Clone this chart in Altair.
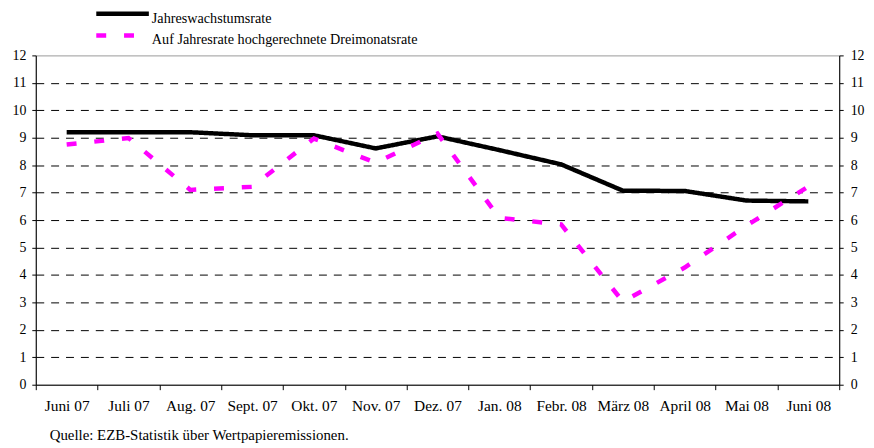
import altair as alt
import pandas as pd

months = ["Juni 07", "Juli 07", "Aug. 07", "Sept. 07", "Okt. 07", "Nov. 07", "Dez. 07",
          "Jan. 08", "Febr. 08", "März 08", "April 08", "Mai 08", "Juni 08"]
jahres = [9.20, 9.20, 9.20, 9.09, 9.09, 8.61, 9.05, 8.55, 8.03, 7.07, 7.06, 6.71, 6.68]
dreimonat = [8.75, 8.99, 7.10, 7.21, 8.97, 8.09, 9.15, 6.08, 5.84, 3.03, 4.27, 5.80, 7.22]
series = ["Jahreswachstumsrate", "Auf Jahresrate hochgerechnete Dreimonatsrate"]
y_ticks = list(range(0, 13))
x_ticks = list(range(0, 14))
source = "Quelle: EZB-Statistik über Wertpapieremissionen."

rows = []
for i, m in enumerate(months):
    rows.append({"pos": i + 0.5, "Monat": m, "Serie": series[0], "Wert": jahres[i]})
for i, m in enumerate(months):
    rows.append({"pos": i + 0.5, "Monat": m, "Serie": series[1], "Wert": dreimonat[i]})
df = pd.DataFrame(rows)
legend_df = pd.DataFrame({"Serie": series, "row": list(range(len(series)))})

FONT = "Liberation Serif"
W, H = 810, 332

month_arr = "[" + ",".join("'" + m + "'" for m in months) + "]"
label_expr = f"datum.value < {len(months)} ? {month_arr}[datum.value] : ''"

x_enc = alt.X(
    "pos:Q",
    scale=alt.Scale(domain=[0, len(months)], nice=False, zero=False),
    axis=alt.Axis(
        values=x_ticks, labelExpr=label_expr, labelOffset=W / len(months) / 2,
        title=None, grid=False, tickSize=5, tickColor="black", domainColor="black",
        labelFont=FONT, labelFontSize=15.5, labelColor="black", labelPadding=9,
        labelOverlap=False, labelFlush=False, labelBound=False,
    ),
)

y_scale = alt.Scale(domain=[0, 12], nice=False, zero=True)
color_scale = alt.Scale(domain=series, range=["#000000", "#ff00ff"])
dash_scale = alt.Scale(domain=series, range=[[1, 0], [10, 18]])

lines = alt.Chart(df).mark_line(strokeWidth=4.5, strokeCap="butt", strokeJoin="miter").encode(
    x=x_enc,
    y=alt.Y("Wert:Q", scale=y_scale,
            axis=alt.Axis(values=y_ticks, title=None, grid=True, orient="left",
                          gridColor="black", gridDash=[8, 7], gridWidth=1,
                          gridOpacity={"condition": {"test": "datum.value == 12 || datum.value == 0", "value": 0}, "value": 1},
                          tickSize=4, tickColor="black", domainColor="black",
                          labelFont=FONT, labelFontSize=14, labelColor="black", labelPadding=6)),
    color=alt.Color("Serie:N", sort=series, scale=color_scale, legend=None),
    strokeDash=alt.StrokeDash("Serie:N", sort=series, scale=dash_scale, legend=None),
    order="pos:Q",
)

right_axis = alt.Chart(df).mark_point(opacity=0).encode(
    x=x_enc,
    y=alt.Y("Wert:Q", scale=y_scale,
            axis=alt.Axis(values=y_ticks, title=None, grid=False, orient="right",
                          tickSize=4, tickColor="black", domainColor="black",
                          labelFont=FONT, labelFontSize=14, labelColor="black", labelPadding=7)),
)

# manual legend above the plot area
leg_y = alt.Y("row:Q", scale=alt.Scale(domain=[0, 1], range=[-42, -20]), axis=None)
legend_lines = alt.Chart(legend_df).mark_rule(strokeWidth=4.5, strokeCap="butt").encode(
    x=alt.value(61), x2=alt.value(114), y=leg_y,
    color=alt.Color("Serie:N", scale=color_scale, legend=None),
    strokeDash=alt.StrokeDash("Serie:N", scale=dash_scale, legend=None),
)
legend_text = alt.Chart(legend_df).mark_text(
    align="left", baseline="alphabetic", font=FONT, fontSize=14.3, color="black", dy=9
).encode(x=alt.value(117), y=leg_y, text="Serie:N")

note = alt.Chart(pd.DataFrame({"t": [source]})).mark_text(
    align="left", baseline="alphabetic", font=FONT, fontSize=15, color="black"
).encode(x=alt.value(14), y=alt.value(387.5), text="t:N")

chart = alt.layer(lines, right_axis, legend_lines, legend_text, note).resolve_scale(
    y="independent"
).properties(
    width=W, height=H,
    autosize=alt.AutoSizeParams(type="none"),
    padding={"left": 28, "top": 46, "right": 27, "bottom": 60},
    background="white",
).configure_view(stroke="#999999", strokeWidth=1)

chart.save("out.html", embed_options={"renderer": "svg", "actions": False})
